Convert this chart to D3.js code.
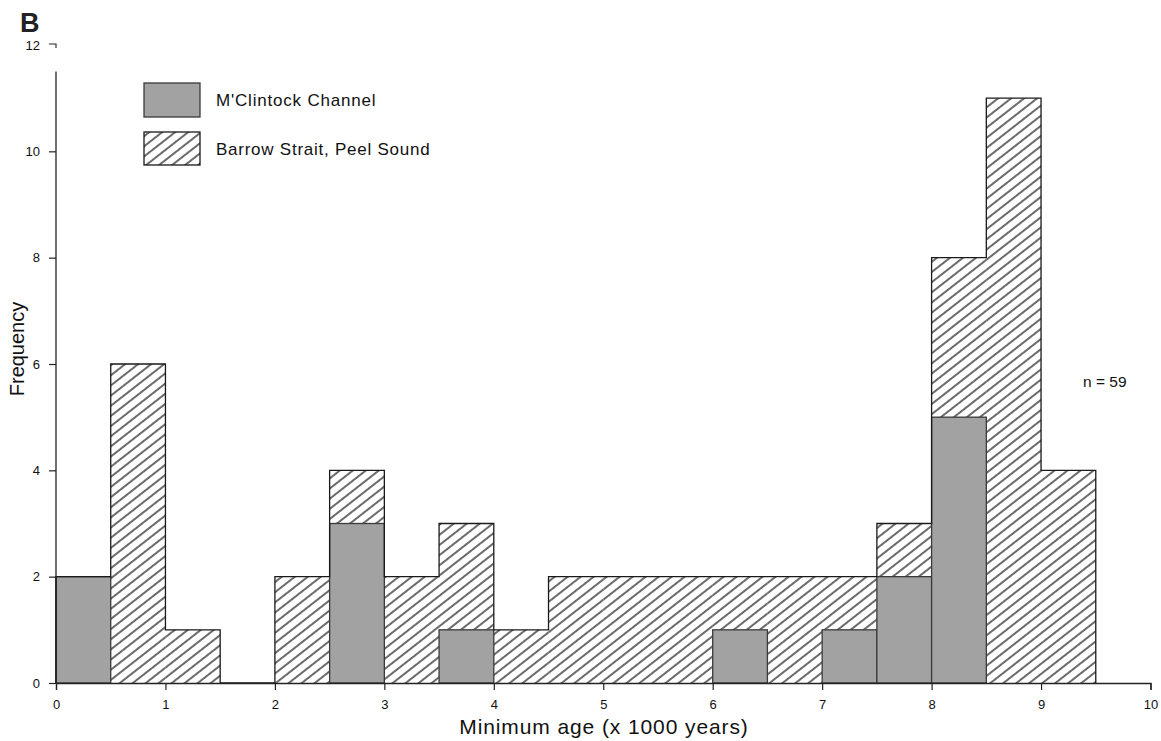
<!DOCTYPE html>
<html><head><meta charset="utf-8">
<script src="https://cdn.jsdelivr.net/npm/d3@7"></script>
<style>body{margin:0;background:#fff;} svg{display:block;font-family:"Liberation Sans",Arial,sans-serif;}</style>
</head><body>
<svg id="c" width="1161" height="741"></svg>
<script>
// bin start values (x 1000 years), width 0.5
const binStarts = [0,0.5,1,1.5,2,2.5,3,3.5,4,4.5,5,5.5,6,6.5,7,7.5,8,8.5,9];
const binWidth = 0.5;
const mclintock = [2,0,0,0,0,3,0,1,0,0,0,0,1,0,1,2,5,0,0];
const barrowPeel = [0,6,1,0,2,1,2,2,1,2,2,2,1,2,1,1,3,11,4];
const xTicks = [0,1,2,3,4,5,6,7,8,9,10];
const yTicks = [0,2,4,6,8,10,12];
const seriesNames = ["M'Clintock Channel","Barrow Strait, Peel Sound"];

const svg = d3.select("#c");
const x = d3.scaleLinear().domain([0,10]).range([56,1150.5]);
const y = d3.scaleLinear().domain([0,12]).range([683,45]);

const defs = svg.append("defs");
const pat = defs.append("pattern").attr("id","hatch").attr("patternUnits","userSpaceOnUse")
  .attr("width",8).attr("height",8).attr("patternTransform","rotate(-38)");
pat.append("line").attr("x1",0).attr("x2",8).attr("y1",4).attr("y2",4)
  .attr("stroke","#1a1a1a").attr("stroke-width",1.3);

const bins = binStarts.map((s,i)=>({s, g:mclintock[i], b:barrowPeel[i], t:mclintock[i]+barrowPeel[i]}));

// hatched (Barrow Strait, Peel Sound) stacked above gray
svg.append("g").selectAll("rect").data(bins.filter(d=>d.b>0)).join("rect")
  .attr("x",d=>x(d.s)).attr("width",d=>x(d.s+binWidth)-x(d.s))
  .attr("y",d=>y(d.t)).attr("height",d=>y(d.g)-y(d.t))
  .attr("fill","url(#hatch)");

// gray (M'Clintock Channel)
svg.append("g").selectAll("rect").data(bins.filter(d=>d.g>0)).join("rect")
  .attr("x",d=>x(d.s)).attr("width",d=>x(d.s+binWidth)-x(d.s))
  .attr("y",d=>y(d.g)).attr("height",d=>y(0)-y(d.g))
  .attr("fill","#a2a2a2").attr("stroke","#3a3a3a").attr("stroke-width",1.3);

// outline of total histogram
const pts = [[binStarts[0],0]];
bins.forEach(d=>{pts.push([d.s,d.t]);pts.push([d.s+binWidth,d.t]);});
pts.push([binStarts[binStarts.length-1]+binWidth,0]);
svg.append("path").datum(pts)
  .attr("d",d3.line().x(d=>x(d[0])).y(d=>y(d[1])))
  .attr("fill","none").attr("stroke","#1a1a1a").attr("stroke-width",1.3);

// x axis
const xa = svg.append("g").attr("transform",`translate(0,${y(0)})`)
  .call(d3.axisBottom(x).tickValues(xTicks).tickFormat(d3.format("d")).tickSize(7).tickPadding(10));
xa.select(".domain").attr("stroke","#222").attr("stroke-width",1.3);
xa.selectAll(".tick line").attr("stroke","#222").attr("stroke-width",1.2);
xa.selectAll("text").attr("font-size",13).attr("fill","#111").attr("font-family","Liberation Sans, Arial, sans-serif");

// y axis
const ya = svg.append("g").attr("transform",`translate(${x(0)},0)`)
  .call(d3.axisLeft(y).tickValues(yTicks.slice(0,6)).tickFormat(d3.format("d")).tickSize(7).tickPadding(9));
ya.select(".domain").remove();
ya.selectAll(".tick line").attr("stroke","#222").attr("stroke-width",1.2);
ya.selectAll("text").attr("font-size",13).attr("fill","#111").attr("font-family","Liberation Sans, Arial, sans-serif");
svg.append("line").attr("x1",x(0)).attr("x2",x(0)).attr("y1",y(0)).attr("y2",y(11.5))
  .attr("stroke","#222").attr("stroke-width",1.3);
// top "12" with hook
svg.append("text").attr("x",x(0)-16).attr("y",y(12)+5).attr("text-anchor","end")
  .attr("font-size",13).attr("fill","#111").text(yTicks[6]);
svg.append("path").attr("d",`M${x(0)-7},${y(12)-1}H${x(0)}V${y(12)+3}`)
  .attr("fill","none").attr("stroke","#222").attr("stroke-width",1.1);

// axis titles
svg.append("text").attr("x",604).attr("y",734).attr("text-anchor","middle")
  .attr("font-size",21).attr("letter-spacing",0.9).attr("fill","#111").text("Minimum age (x 1000 years)");
svg.append("text").attr("transform","translate(24,349) rotate(-90)").attr("text-anchor","middle")
  .attr("font-size",20).attr("fill","#111").text("Frequency");

// panel label
svg.append("text").attr("x",20).attr("y",32).attr("font-size",27).attr("font-weight","bold")
  .attr("fill","#222").text("B");

// legend
const lg = svg.append("g");
lg.append("rect").attr("x",144).attr("y",83).attr("width",56).attr("height",34)
  .attr("fill","#a2a2a2").attr("stroke","#3a3a3a").attr("stroke-width",1.3);
lg.append("rect").attr("x",144).attr("y",132).attr("width",56).attr("height",33)
  .attr("fill","url(#hatch)").attr("stroke","#1a1a1a").attr("stroke-width",1.3);
lg.append("text").attr("x",216).attr("y",106).attr("font-size",17).attr("letter-spacing",0.8).attr("fill","#111").text(seriesNames[0]);
lg.append("text").attr("x",216).attr("y",155).attr("font-size",17).attr("letter-spacing",0.75).attr("fill","#111").text(seriesNames[1]);

// n label
svg.append("text").attr("x",1083).attr("y",387).attr("font-size",15.5).attr("fill","#111").text("n = 59");
</script>
</body></html>
